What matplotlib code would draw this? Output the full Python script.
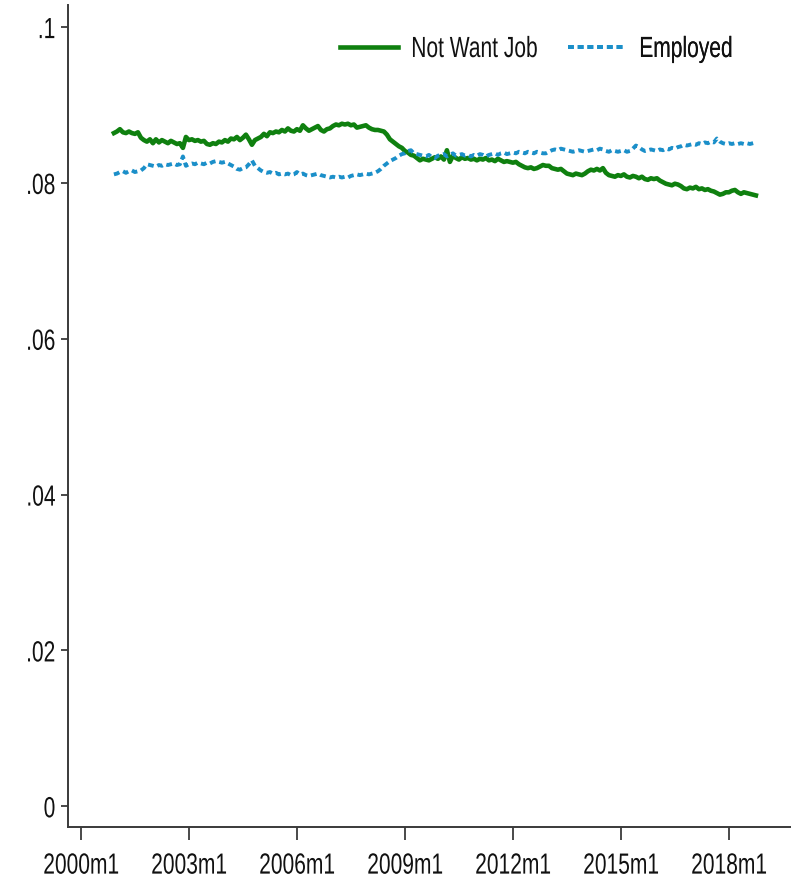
import numpy as np
import matplotlib
matplotlib.use("Agg")
import matplotlib.pyplot as plt
from matplotlib.lines import Line2D
from matplotlib.patheffects import AbstractPathEffect
from matplotlib.transforms import Affine2D

# monthly shares, 2000m12 .. 2018m10
start_year, start_month = 2000, 12

not_want_job = [
    0.0864,                                                                                          # 2000m12
    0.0866, 0.0869, 0.0865, 0.0864, 0.0866, 0.0864, 0.0863, 0.0865, 0.0858, 0.0855, 0.0853, 0.0856,  # 2001
    0.0851, 0.0856, 0.0852, 0.0855, 0.0853, 0.0851, 0.0854, 0.0852, 0.0850, 0.0851, 0.0845, 0.0859,  # 2002
    0.0855, 0.0856, 0.0854, 0.0855, 0.0853, 0.0854, 0.0850, 0.0849, 0.0851, 0.0850, 0.0853, 0.0852,  # 2003
    0.0855, 0.0853, 0.0857, 0.0856, 0.0859, 0.0855, 0.0858, 0.0862, 0.0856, 0.0849, 0.0855, 0.0857,  # 2004
    0.0859, 0.0863, 0.0860, 0.0865, 0.0864, 0.0866, 0.0865, 0.0868, 0.0866, 0.0870, 0.0867, 0.0866,  # 2005
    0.0869, 0.0867, 0.0874, 0.0870, 0.0867, 0.0869, 0.0871, 0.0873, 0.0868, 0.0866, 0.0869, 0.0870,  # 2006
    0.0873, 0.0875, 0.0874, 0.0876, 0.0875, 0.0876, 0.0874, 0.0875, 0.0871, 0.0872, 0.0873, 0.0874,  # 2007
    0.0871, 0.0869, 0.0868, 0.0868, 0.0867, 0.0866, 0.0862, 0.0856, 0.0853, 0.0850, 0.0847, 0.0845,  # 2008
    0.0841, 0.0839, 0.0836, 0.0835, 0.0832, 0.0829, 0.0831, 0.0830, 0.0829, 0.0831, 0.0833, 0.0831,  # 2009
    0.0834, 0.0830, 0.0842, 0.0827, 0.0835, 0.0832, 0.0830, 0.0833, 0.0831, 0.0832, 0.0830, 0.0831,  # 2010
    0.0829, 0.0831, 0.0830, 0.0832, 0.0829, 0.0830, 0.0828, 0.0831, 0.0829, 0.0827, 0.0828, 0.0827,  # 2011
    0.0826, 0.0827, 0.0824, 0.0822, 0.0820, 0.0819, 0.0820, 0.0818, 0.0819, 0.0821, 0.0823, 0.0822,  # 2012
    0.0822, 0.0819, 0.0818, 0.0817, 0.0818, 0.0815, 0.0812, 0.0811, 0.0810, 0.0812, 0.0811, 0.0810,  # 2013
    0.0812, 0.0815, 0.0817, 0.0816, 0.0818, 0.0816, 0.0819, 0.0813, 0.0810, 0.0809, 0.0808, 0.0810,  # 2014
    0.0809, 0.0811, 0.0808, 0.0807, 0.0809, 0.0808, 0.0806, 0.0808, 0.0805, 0.0804, 0.0806, 0.0805,  # 2015
    0.0806, 0.0803, 0.0801, 0.0799, 0.0798, 0.0797, 0.0799, 0.0798, 0.0796, 0.0793, 0.0792, 0.0794,  # 2016
    0.0793, 0.0795, 0.0792, 0.0793, 0.0791, 0.0792, 0.0790, 0.0789, 0.0787, 0.0785, 0.0786, 0.0788,  # 2017
    0.0788, 0.0790, 0.0791, 0.0788, 0.0786, 0.0788, 0.0787, 0.0786, 0.0785, 0.0784,                  # 2018
]

employed = [
    0.0811,                                                                                          # 2000m12
    0.0812, 0.0814, 0.0815, 0.0813, 0.0815, 0.0816, 0.0814, 0.0815, 0.0816, 0.0819, 0.0824, 0.0823,  # 2001
    0.0822, 0.0821, 0.0823, 0.0822, 0.0824, 0.0823, 0.0824, 0.0825, 0.0823, 0.0824, 0.0834, 0.0822,  # 2002
    0.0824, 0.0825, 0.0824, 0.0826, 0.0825, 0.0824, 0.0826, 0.0825, 0.0827, 0.0828, 0.0827, 0.0826,  # 2003
    0.0827, 0.0825, 0.0823, 0.0821, 0.0818, 0.0817, 0.0819, 0.0820, 0.0824, 0.0829, 0.0822, 0.0819,  # 2004
    0.0816, 0.0814, 0.0813, 0.0814, 0.0812, 0.0813, 0.0811, 0.0812, 0.0811, 0.0812, 0.0810, 0.0811,  # 2005
    0.0814, 0.0811, 0.0812, 0.0810, 0.0809, 0.0810, 0.0811, 0.0812, 0.0810, 0.0809, 0.0808, 0.0807,  # 2006
    0.0808, 0.0807, 0.0808, 0.0807, 0.0808, 0.0807, 0.0809, 0.0810, 0.0811, 0.0810, 0.0811, 0.0812,  # 2007
    0.0811, 0.0812, 0.0813, 0.0815, 0.0818, 0.0822, 0.0825, 0.0828, 0.0830, 0.0832, 0.0835, 0.0837,  # 2008
    0.0838, 0.0841, 0.0842, 0.0838, 0.0837, 0.0836, 0.0835, 0.0834, 0.0836, 0.0833, 0.0832, 0.0835,  # 2009
    0.0836, 0.0837, 0.0834, 0.0836, 0.0838, 0.0835, 0.0836, 0.0837, 0.0835, 0.0836, 0.0834, 0.0836,  # 2010
    0.0835, 0.0837, 0.0836, 0.0834, 0.0836, 0.0837, 0.0838, 0.0836, 0.0838, 0.0839, 0.0837, 0.0838,  # 2011
    0.0839, 0.0838, 0.0840, 0.0839, 0.0838, 0.0840, 0.0839, 0.0838, 0.0840, 0.0839, 0.0838, 0.0838,  # 2012
    0.0840, 0.0842, 0.0843, 0.0842, 0.0844, 0.0843, 0.0842, 0.0841, 0.0840, 0.0841, 0.0842, 0.0841,  # 2013
    0.0840, 0.0841, 0.0842, 0.0843, 0.0842, 0.0844, 0.0843, 0.0841, 0.0840, 0.0842, 0.0841, 0.0840,  # 2014
    0.0841, 0.0842, 0.0840, 0.0841, 0.0844, 0.0848, 0.0846, 0.0843, 0.0841, 0.0842, 0.0843, 0.0842,  # 2015
    0.0841, 0.0843, 0.0842, 0.0844, 0.0843, 0.0845, 0.0844, 0.0846, 0.0847, 0.0849, 0.0848, 0.0849,  # 2016
    0.0850, 0.0849, 0.0851, 0.0850, 0.0852, 0.0851, 0.0853, 0.0852, 0.0857, 0.0853, 0.0851, 0.0850,  # 2017
    0.0851, 0.0850, 0.0851, 0.0850, 0.0851, 0.0850, 0.0851, 0.0850, 0.0851, 0.0852,                  # 2018
]

tick_years = [2000, 2003, 2006, 2009, 2012, 2015, 2018]
y_ticks = [0, 0.02, 0.04, 0.06, 0.08, 0.1]
y_labels = ["0", ".02", ".04", ".06", ".08", ".1"]


class Condense(AbstractPathEffect):
    """Squeeze text horizontally about its left, centre or right edge."""

    def __init__(self, sx=0.72, anchor="center"):
        super().__init__()
        self.sx = sx
        self.anchor = anchor

    def draw_path(self, renderer, gc, tpath, affine, rgbFace=None):
        ext = tpath.get_extents(affine)
        if self.anchor == "left":
            cx = ext.x0
        elif self.anchor == "right":
            cx = ext.x1
        else:
            cx = 0.5 * (ext.x0 + ext.x1)
        aff = affine + Affine2D().translate(-cx, 0).scale(self.sx, 1).translate(cx, 0)
        renderer.draw_path(gc, tpath, aff, rgbFace)


# months counted from 2000m1
t0 = (start_year - 2000) * 12 + (start_month - 1)
months = t0 + np.arange(len(not_want_job))
tick_pos = [(y - 2000) * 12 for y in tick_years]
tick_lab = [f"{y}m1" for y in tick_years]

plt.rcParams["font.family"] = ["Liberation Sans", "DejaVu Sans"]
FS = 21
green = "#0f800f"
blue = "#1b8fc9"
blue_ls = (0, (1.5, 1.0))

fig = plt.figure(figsize=(7.91, 8.82), dpi=100)
ax = fig.add_axes([0.086, 0.062, 0.914, 0.932])

ax.plot(months, not_want_job, color=green, lw=3.3, solid_joinstyle="round")
ax.plot(months, employed, color=blue, lw=2.8, linestyle=blue_ls)

ax.set_xlim(-4.3, 236.7)
ax.set_ylim(-0.0027, 0.1028)

ax.set_xticks(tick_pos)
ax.set_xticklabels(tick_lab)
ax.set_yticks(y_ticks)
ax.set_yticklabels(y_labels)

for s in ["top", "right"]:
    ax.spines[s].set_visible(False)
for s in ["left", "bottom"]:
    ax.spines[s].set_color("#3a3a3a")
    ax.spines[s].set_linewidth(1.4)

ax.tick_params(axis="x", length=9.5, width=1.3, color="#3a3a3a", labelsize=FS,
               labelcolor="#111111", pad=8)
ax.tick_params(axis="y", length=5, width=1.3, color="#3a3a3a", labelsize=FS,
               labelcolor="#111111", pad=4)
for lab in ax.get_xticklabels():
    lab.set_path_effects([Condense(0.72, "center")])
for lab in ax.get_yticklabels():
    lab.set_path_effects([Condense(0.72, "right")])

# two legend entries placed side by side at the top
entries = [
    (Line2D([], [], color=green, lw=3.3), "Not Want Job", 340),
    (Line2D([], [], color=blue, lw=2.8, linestyle=blue_ls), "Employed", 568),
]
for handle, text, xpix in entries:
    leg = ax.legend([handle], [text], loc="center left",
                    bbox_to_anchor=(xpix / 791, 1 - 49 / 882), bbox_transform=fig.transFigure,
                    frameon=False, fontsize=FS, handlelength=2.0, handletextpad=0.42,
                    borderaxespad=0, borderpad=0, labelcolor="#111111")
    for t in leg.get_texts():
        t.set_path_effects([Condense(0.72, "left")])
    ax.add_artist(leg)

fig.savefig("out.png", dpi=100)
